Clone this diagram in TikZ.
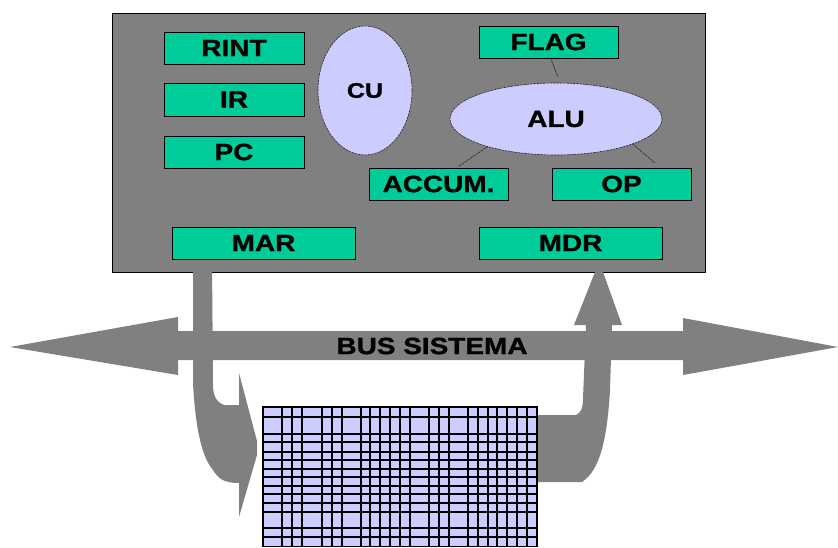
\documentclass[tikz,border=0pt]{standalone}
\usepackage{fontspec}
\setmainfont{Liberation Sans}
\newfontfamily\lblfont[FakeStretch=1.19, FakeBold=1.2]{Liberation Sans Bold}
\usetikzlibrary{shapes.geometric}
\definecolor{cpugrey}{HTML}{808080}
\definecolor{reggreen}{HTML}{00CC99}
\definecolor{lav}{HTML}{CCCCFF}
\tikzset{
  lbl/.style={font=\lblfont\bfseries\fontsize{23.5}{23.5}\selectfont, text=black},
  reg/.style={lbl, draw=black, line width=0.8pt, fill=reggreen, inner sep=0pt, outer sep=0pt},
  unit/.style={lbl, ellipse, draw=black!85, line width=0.6pt, dash pattern=on 2.5pt off 0.8pt, fill=lav, inner sep=0pt, outer sep=0pt},
  link/.style={draw=black!85, line width=0.6pt, dash pattern=on 2.5pt off 0.8pt},
  cpubox/.style={draw=black, line width=0.8pt, fill=cpugrey, inner sep=0pt, outer sep=0pt},
  bigarrow/.style={fill=cpugrey, draw=none},
  gridline/.style={draw=black, line width=1.1pt}
}
\begin{document}
\begin{tikzpicture}[x=1pt, y=-1pt]
\useasboundingbox (0,0) rectangle (838,547);
% CPU box
\node[cpubox, minimum width=593pt, minimum height=259pt] (cpu) at (408.5,142.5) {};
% registers
\node[reg, minimum width=140pt, minimum height=32pt] (rint) at (234,48) {RINT};
\node[reg, minimum width=140pt, minimum height=33pt] (ir) at (234,99.5) {IR};
\node[reg, minimum width=140pt, minimum height=32pt] (pc) at (234,152) {PC};
\node[unit, minimum width=94pt, minimum height=129pt, font=\lblfont\bfseries\fontsize{21}{21}\selectfont] (cu) at (365,90.5) {CU};
\node[reg, minimum width=139pt, minimum height=32pt] (flag) at (548.5,42) {FLAG};
\node[unit, minimum width=212pt, minimum height=72pt] (alu) at (556,119) {ALU};
\node[reg, minimum width=139pt, minimum height=32pt] (accum) at (438.5,184) {ACCUM.};
\node[reg, minimum width=139pt, minimum height=32pt] (op) at (621.5,184) {OP};
\node[reg, minimum width=183pt, minimum height=32pt] (mar) at (263.5,243) {MAR};
\node[reg, minimum width=183pt, minimum height=32pt] (mdr) at (570.5,243) {MDR};
% links to ALU
\draw[link] ([xshift=2pt]flag.south) -- ([shift={(2pt,6pt)}]alu.north);
\draw[link] ([shift={(90pt,2pt)}]accum.north west) -- (alu.202);
\draw[link] (alu.-18) -- ([shift={(103pt,5pt)}]op.north west);
% system bus
\fill[bigarrow] (10,347) -- (178,317) -- (178,331) -- (683,331) -- (683,318)
  -- (838,347) -- (683,375) -- (683,360) -- (178,360) -- (178,375) -- cycle;
% MAR -> memory
\fill[bigarrow] (193,260) -- (193,383) .. controls (195,420) and (200,455) .. (213,470)
  .. controls (218,478) and (223,483) .. (239,483) -- (239,517) -- (257,455) -- (257,441)
  -- (239,373) -- (239,405) -- (224,405) .. controls (216,402) and (213,395) .. (213,385)
  -- (212,260) -- cycle;
% memory -> MDR
\fill[bigarrow] (536,415) -- (576,415) .. controls (581,413) and (583,408) .. (583,398)
  -- (586,325) -- (574,325) -- (595,272) -- (603,272) -- (622,325) -- (612,325)
  -- (610,390) .. controls (607,440) and (600,470) .. (582,482) -- (536,482) -- cycle;
\node[lbl] (bus) at (432,346) {BUS SISTEMA};
% memory grid
\node[draw=black, line width=1.1pt, fill=lav, minimum width=274pt, minimum height=139.5pt, inner sep=0pt, outer sep=0pt] (mem) at (400,476.75) {};
\foreach \gx in {282,292,302,322,332,342,361,370,380,390,400,410,429,439,449,468,478,488,497,507,517,527}
  \draw[gridline] (\gx,407) -- (\gx,546.5);
\foreach \gy in {417,434,442,452,460,469,477,486,494,503,512,528,537}
  \draw[gridline] (263,\gy) -- (537,\gy);
\end{tikzpicture}
\end{document}
